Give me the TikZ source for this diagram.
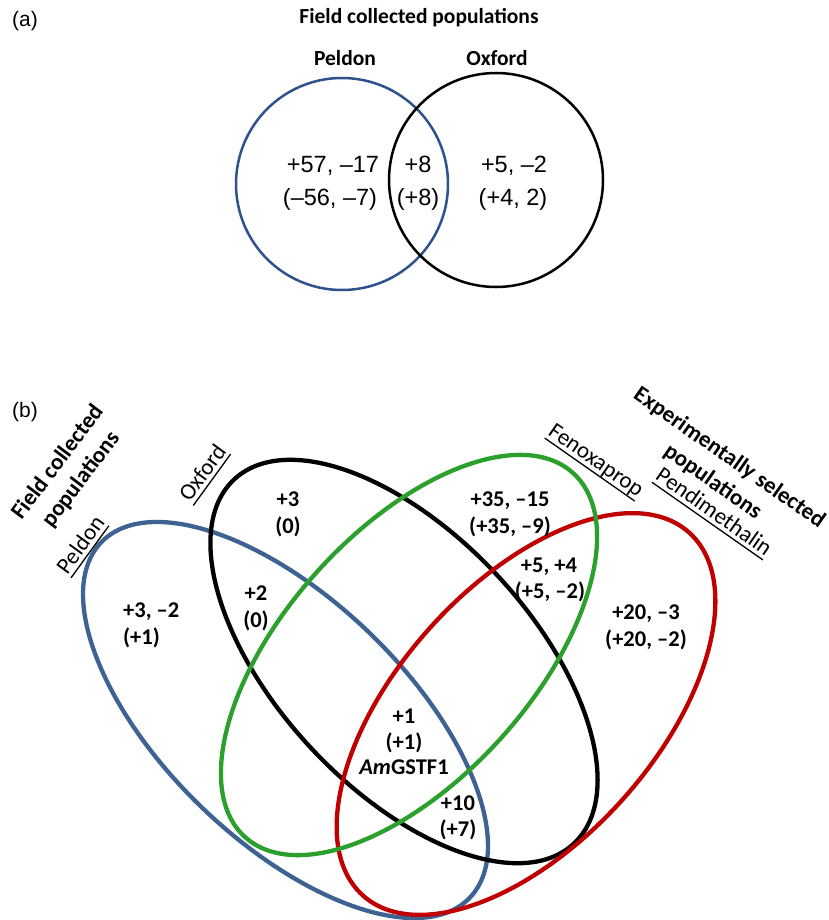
\documentclass[tikz,border=0pt]{standalone}
\usepackage{fontspec}
\setmainfont{Carlito}
\newfontfamily\arialf{Liberation Sans}
\definecolor{pblue}{RGB}{62,98,145}
\definecolor{ablue}{RGB}{47,82,143}
\definecolor{pgreen}{RGB}{44,160,44}
\definecolor{pred}{RGB}{192,0,0}
\newcommand\myul[1]{\leavevmode\setbox0\hbox{#1}\rlap{\rule[-5pt]{\wd0}{1.3pt}}\box0}
\begin{document}
\begin{tikzpicture}[x=1pt,y=-1pt,
  num/.style={font=\fontsize{22.5}{27}\selectfont\bfseries, inner sep=0pt, anchor=base},
  anum/.style={font=\arialf\fontsize{23.5}{28}\selectfont, inner sep=0pt, anchor=base},
  panel/.style={font=\arialf\fontsize{21}{25}\selectfont, inner sep=0pt},
  atitle/.style={font=\fontsize{21.5}{26}\selectfont\bfseries, inner sep=0pt},
  lab/.style={font=\fontsize{23}{28}\selectfont, inner sep=0pt},
  blab/.style={font=\fontsize{23}{29}\selectfont\bfseries, inner sep=0pt, align=center},
  venn/.style={line width=4.3pt},
  avenn/.style={line width=2.5pt}]
\useasboundingbox (0,0) rectangle (829,920);

% ---------- (a) ----------
\node[panel] (pa) at (25,21) {(a)};
\node[atitle] (ta) at (419,18) {Field collected populations};
\node[atitle] (pel) at (345,58) {Peldon};
\node[atitle] (oxf) at (497,58) {Oxford};
\draw[avenn, ablue] (342,184) circle[radius=106pt];
\draw[avenn] (496,180) circle[radius=107pt];
\node[anum] (a1) at (333,173) {+57, –17};
\node[anum] (a2) at (330,205) {(–56, –7)};
\node[anum] (a3) at (418,173) {+8};
\node[anum] (a4) at (418,205) {(+8)};
\node[anum] (a5) at (514,173) {+5, –2};
\node[anum] (a6) at (513,205) {(+4, 2)};

% ---------- (b) ----------
\node[panel] (pb) at (25,412) {(b)};
\draw[venn, pblue] (285.5,720) ellipse[x radius=256pt, y radius=121pt, rotate=-44];
\draw[venn, black] (404,661.5) ellipse[x radius=249pt, y radius=127pt, rotate=-47];
\draw[venn, pred] (526,714) ellipse[x radius=244pt, y radius=129pt, rotate=48];
\draw[venn, pgreen] (409,655) ellipse[x radius=245pt, y radius=124pt, rotate=48];

\node[blab, rotate=53] (fcp) at (69.5,471) {Field collected\\populations};
\node[lab, rotate=54] (lpel) at (82,546) {\myul{Peldon}};
\node[lab, rotate=54] (loxf) at (204,474) {\myul{Oxford}};
\node[lab, rotate=-35] (lfen) at (595,462) {\myul{Fenoxaprop}};
\node[lab, rotate=-35] (lpen) at (713,513) {\myul{Pendimethalin}};
\node[blab, rotate=-35] (esp) at (721,470) {Experimentally selected\\populations};

\node[num] (b1) at (288,506) {+3};
\node[num] (b2) at (288,533) {(0)};
\node[num] (b3) at (256,600) {+2};
\node[num] (b4) at (256,627) {(0)};
\node[num, anchor=base west] (b5) at (123,617) {+3, –2};
\node[num, anchor=base west] (b6) at (123,644) {(+1)};
\node[num] (b7) at (510,506) {+35, –15};
\node[num] (b8) at (510,533) {(+35, –9)};
\node[num] (b9) at (549,572) {+5, +4};
\node[num] (b10) at (550,598) {(+5, –2)};
\node[num] (b11) at (646,619) {+20, –3};
\node[num] (b12) at (646,646) {(+20, –2)};
\node[num] (b13) at (404,723) {+1};
\node[num] (b14) at (404,749) {(+1)};
\node[num] (b15) at (404,774) {\textit{Am}GSTF1};
\node[num] (b16) at (458,810) {+10};
\node[num] (b17) at (458,836) {(+7)};
\end{tikzpicture}
\end{document}
